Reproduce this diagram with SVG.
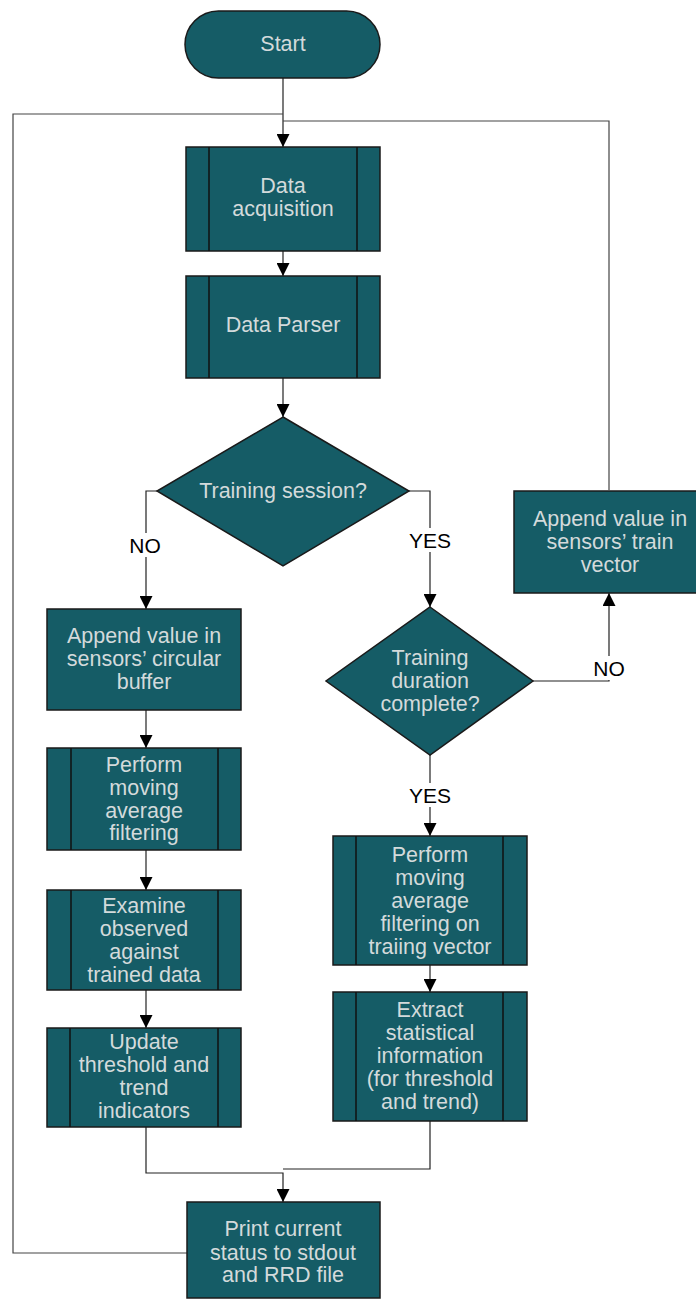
<svg xmlns="http://www.w3.org/2000/svg" width="696" height="1300" viewBox="0 0 696 1300">
  <style>
    .box { fill: #155c66; stroke: #1a1a1a; stroke-width: 1.5; }
    .bar { stroke: #111; stroke-width: 1.5; fill: none; }
    .t { font-family: "Liberation Sans", Arial, sans-serif; font-size: 21.5px; fill: #d3dadb; text-anchor: middle; dominant-baseline: central; }
    .lbl { font-family: "Liberation Sans", Arial, sans-serif; font-size: 21px; fill: #000; text-anchor: middle; dominant-baseline: central; }
    .edge { fill: none; stroke: #222; stroke-width: 1.2; }
    .loop { fill: none; stroke: #444; stroke-width: 1.2; }
  </style>
  <defs>
    <marker id="arrow" markerUnits="userSpaceOnUse" markerWidth="13" markerHeight="13" refX="13" refY="6.5" orient="auto">
      <path d="M0,0 L13,6.5 L0,13 z" fill="#000"/>
    </marker>
  </defs>
  <rect width="696" height="1300" fill="#fff"/>

  <!-- connectors -->
  <g id="connectors">
    <path class="edge" d="M283,78 V147" marker-end="url(#arrow)"/>
    <path class="edge" d="M283,251 V276" marker-end="url(#arrow)"/>
    <path class="edge" d="M283,378 V417" marker-end="url(#arrow)"/>
    <path class="edge" d="M157,491 H146 V609" marker-end="url(#arrow)"/>
    <path class="edge" d="M409,491 H430 V607" marker-end="url(#arrow)"/>
    <path class="edge" d="M430,755 V836" marker-end="url(#arrow)"/>
    <path class="edge" d="M533,681 H609 V593" marker-end="url(#arrow)"/>
    <path class="loop" d="M609,490 V121 H283"/>
    <path class="edge" d="M146,710 V748" marker-end="url(#arrow)"/>
    <path class="edge" d="M146,850 V890" marker-end="url(#arrow)"/>
    <path class="edge" d="M146,990 V1028" marker-end="url(#arrow)"/>
    <path class="edge" d="M430,965 V992" marker-end="url(#arrow)"/>
    <path class="edge" d="M146,1127 V1173 H283 V1202" marker-end="url(#arrow)"/>
    <path class="edge" d="M430,1121 V1169 H283"/>
    <path class="loop" d="M187,1253 H13 V114 H283"/>
    <!-- branch labels -->
    <rect x="126" y="533" width="40" height="24" fill="#fff"/>
    <text class="lbl" x="145" y="545">NO</text>
    <rect x="407" y="528" width="46" height="24" fill="#fff"/>
    <text class="lbl" x="430" y="540">YES</text>
    <rect x="588" y="656" width="42" height="24" fill="#fff"/>
    <text class="lbl" x="609" y="668">NO</text>
    <rect x="407" y="783" width="46" height="24" fill="#fff"/>
    <text class="lbl" x="430" y="795">YES</text>
  </g>

  <g id="start">
    <rect class="box" x="185" y="11" width="195" height="67" rx="33.5" ry="33.5"/>
    <text class="t" x="283" y="44">Start</text>
  </g>

  <g id="data-acquisition">
    <rect class="box" x="186" y="147" width="194" height="104"/>
    <path class="bar" d="M209,147 V251 M357,147 V251"/>
    <text class="t" x="283" y="186">Data</text>
    <text class="t" x="283" y="209">acquisition</text>
  </g>

  <g id="data-parser">
    <rect class="box" x="186" y="276" width="194" height="102"/>
    <path class="bar" d="M209,276 V378 M357,276 V378"/>
    <text class="t" x="283" y="325">Data Parser</text>
  </g>

  <g id="training-session">
    <polygon class="box" points="283,417 409,491 283,566 157,491"/>
    <text class="t" x="283" y="491">Training session?</text>
  </g>

  <g id="append-circular">
    <rect class="box" x="47" y="609" width="194" height="101"/>
    <text class="t" x="144" y="636">Append value in</text>
    <text class="t" x="144" y="659">sensors’ circular</text>
    <text class="t" x="144" y="682">buffer</text>
  </g>

  <g id="moving-average">
    <rect class="box" x="47" y="748" width="194" height="102"/>
    <path class="bar" d="M71,748 V850 M218,748 V850"/>
    <text class="t" x="144" y="765">Perform</text>
    <text class="t" x="144" y="788">moving</text>
    <text class="t" x="144" y="811">average</text>
    <text class="t" x="144" y="833">filtering</text>
  </g>

  <g id="examine">
    <rect class="box" x="47" y="890" width="194" height="100"/>
    <path class="bar" d="M71,890 V990 M218,890 V990"/>
    <text class="t" x="144" y="906">Examine</text>
    <text class="t" x="144" y="929">observed</text>
    <text class="t" x="144" y="952">against</text>
    <text class="t" x="144" y="975">trained data</text>
  </g>

  <g id="update">
    <rect class="box" x="47" y="1028" width="194" height="99"/>
    <path class="bar" d="M70,1028 V1127 M218,1028 V1127"/>
    <text class="t" x="144" y="1042">Update</text>
    <text class="t" x="144" y="1065">threshold and</text>
    <text class="t" x="144" y="1088">trend</text>
    <text class="t" x="144" y="1111">indicators</text>
  </g>

  <g id="training-duration">
    <polygon class="box" points="430,607 533,681 430,755 326,681"/>
    <text class="t" x="430" y="658">Training</text>
    <text class="t" x="430" y="681">duration</text>
    <text class="t" x="430" y="704">complete?</text>
  </g>

  <g id="append-train">
    <rect class="box" x="514" y="491" width="186" height="102"/>
    <text class="t" x="610" y="519">Append value in</text>
    <text class="t" x="610" y="542">sensors’ train</text>
    <text class="t" x="610" y="565">vector</text>
  </g>

  <g id="moving-average-training">
    <rect class="box" x="333" y="836" width="194" height="129"/>
    <path class="bar" d="M356,836 V965 M503,836 V965"/>
    <text class="t" x="430" y="855">Perform</text>
    <text class="t" x="430" y="878">moving</text>
    <text class="t" x="430" y="901">average</text>
    <text class="t" x="430" y="924">filtering on</text>
    <text class="t" x="430" y="947">traiing vector</text>
  </g>

  <g id="extract-statistics">
    <rect class="box" x="333" y="992" width="194" height="129"/>
    <path class="bar" d="M356,992 V1121 M503,992 V1121"/>
    <text class="t" x="430" y="1010">Extract</text>
    <text class="t" x="430" y="1033">statistical</text>
    <text class="t" x="430" y="1056">information</text>
    <text class="t" x="430" y="1079">(for threshold</text>
    <text class="t" x="430" y="1102">and trend)</text>
  </g>

  <g id="print-status">
    <rect class="box" x="187" y="1202" width="193" height="96"/>
    <text class="t" x="283" y="1229">Print current</text>
    <text class="t" x="283" y="1253">status to stdout</text>
    <text class="t" x="283" y="1275">and RRD file</text>
  </g>
</svg>
